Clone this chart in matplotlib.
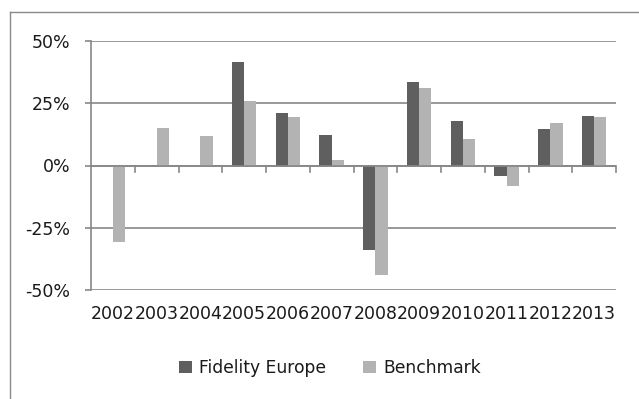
import numpy as np
import matplotlib
matplotlib.use("Agg")
import matplotlib.pyplot as plt
import matplotlib.ticker as ticker
from matplotlib.lines import Line2D

# ── Data (annual returns, %) ────────────────────────────────────────────────
years      = ["2002", "2003", "2004", "2005", "2006", "2007",
              "2008", "2009", "2010", "2011", "2012", "2013"]
fidelity   = [np.nan, np.nan, np.nan, 41.5, 21.0, 12.3,
              -33.9, 33.6, 17.7, -4.4, 14.5, 19.8]
benchmark  = [-30.8, 15.0, 11.9, 25.8, 19.3, 2.4,
              -43.9, 31.3, 10.8, -8.3, 17.0, 19.4]
yticks     = [-50, -25, 0, 25, 50]

# ── Style ───────────────────────────────────────────────────────────────────
C_FID   = "#5f5f5f"
C_BEN   = "#b3b3b3"
C_GRID  = "#878787"
C_TEXT  = "#1a1a1a"
FS      = 12.5

plt.rcParams["font.family"] = ["DejaVu Sans"]

fig = plt.figure(figsize=(6.39, 3.99), dpi=100)
ax = fig.add_axes([91 / 639, 1 - 290 / 399, 525 / 639, 249 / 399])

x = np.arange(len(years))
w = 0.28
ax.bar(x - w / 2, fidelity, width=w, color=C_FID, label="Fidelity Europe", zorder=2)
ax.bar(x + w / 2, benchmark, width=w, color=C_BEN, label="Benchmark", zorder=2)

ax.set_xlim(-0.5, len(years) - 0.5)
ax.set_ylim(-50, 50)
ax.set_yticks(yticks)
ax.yaxis.set_major_formatter(ticker.FuncFormatter(lambda v, _: f"{int(v)}%"))
ax.grid(axis="y", color=C_GRID, linewidth=1.2, zorder=0)
ax.set_axisbelow(True)

for s in ["top", "right", "bottom"]:
    ax.spines[s].set_visible(False)
ax.spines["left"].set_color(C_GRID)
ax.spines["left"].set_linewidth(1.2)

# category axis at 0 with boundary ticks (incl. right end)
ax.axhline(0, color=C_GRID, linewidth=1.2, zorder=3)
for b in np.arange(0.5, len(years) - 0.5 + 1e-9, 1.0):
    ax.plot([b, b], [0, -2.6], color=C_GRID, linewidth=1.2, zorder=3,
            clip_on=False)

ax.set_xticks(x)
ax.set_xticklabels(years)
ax.tick_params(axis="x", length=0, pad=11, labelsize=FS, labelcolor=C_TEXT)
ax.tick_params(axis="y", length=4.3, width=1.2, color=C_GRID, pad=10.5,
               labelsize=FS, labelcolor=C_TEXT)

leg = fig.legend(loc="center", bbox_to_anchor=(330 / 639, 1 - 368 / 399),
                 ncol=2, frameon=False, fontsize=12.3, handlelength=0.75,
                 handleheight=0.75, handletextpad=0.4, columnspacing=2.2)
for t in leg.get_texts():
    t.set_color(C_TEXT)

# outer chart frame (top and left edges visible)
fig.add_artist(Line2D([9.5 / 639, 1], [1 - 11.5 / 399] * 2, transform=fig.transFigure,
                      color="#8a8a8a", linewidth=1.0))
fig.add_artist(Line2D([9.5 / 639] * 2, [0, 1 - 11.5 / 399], transform=fig.transFigure,
                      color="#8a8a8a", linewidth=1.0))

fig.savefig("out.png", dpi=100, facecolor="white")
